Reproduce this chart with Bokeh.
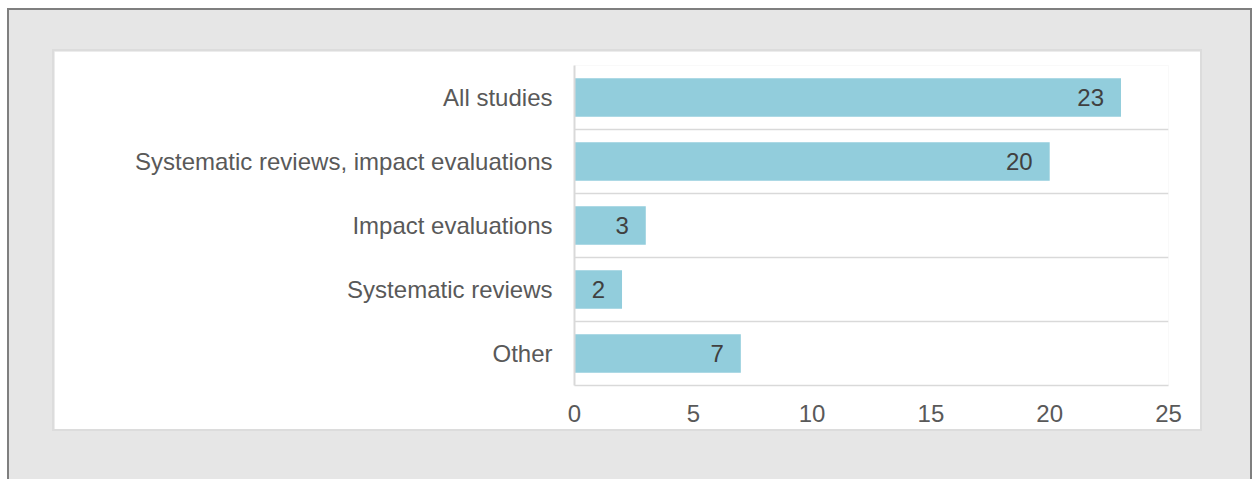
from bokeh.plotting import figure
from bokeh.models import Range1d, FactorRange, FixedTicker
from bokeh.layouts import column
from bokeh.core.properties import value
from bokeh.embed import file_html
from bokeh.resources import INLINE

categories = ["All studies", "Systematic reviews, impact evaluations",
              "Impact evaluations", "Systematic reviews", "Other"]
counts = [23, 20, 3, 2, 7]
x_ticks = [0, 5, 10, 15, 20, 25]
x_max = 25

FONT = "Liberation Sans"
GRID = "#d9d9d9"

factors = list(reversed(categories))
p = figure(width=1146, height=378,
           x_range=Range1d(0, x_max),
           y_range=FactorRange(factors=factors, range_padding=0),
           output_backend="svg", toolbar_location=None,
           min_border_left=520, min_border_right=32,
           min_border_top=14, min_border_bottom=44)
p.outline_line_color = None
p.background_fill_color = "white"
p.border_fill_color = "white"

p.hbar(y=categories, left=0, right=counts, height=0.6,
       fill_color="#92cddc", line_color=None)
p.text(x=counts, y=categories, text=[str(c) for c in counts],
       text_align="right", text_baseline="middle", x_offset=-17,
       text_font=value(FONT), text_font_size="24px", text_color="#404040")

# horizontal separators between categories
p.ygrid.ticker = FixedTicker(ticks=list(range(len(categories) + 1)))
p.ygrid.grid_line_color = GRID
p.ygrid.grid_line_width = 1.5
p.xgrid.grid_line_color = None

p.yaxis.axis_line_color = GRID
p.yaxis.axis_line_width = 2
p.yaxis.major_tick_line_color = None
p.yaxis.minor_tick_line_color = None
p.yaxis.major_label_standoff = 16
p.yaxis.major_label_text_font = FONT
p.yaxis.major_label_text_font_size = "24px"
p.yaxis.major_label_text_color = "#595959"

p.xaxis.ticker = FixedTicker(ticks=x_ticks)
p.xaxis.axis_line_color = GRID
p.xaxis.axis_line_width = 1.5
p.xaxis.major_tick_line_color = None
p.xaxis.minor_tick_line_color = None
p.xaxis.major_tick_out = 0
p.xaxis.major_label_standoff = 19
p.xaxis.major_label_text_font = FONT
p.xaxis.major_label_text_font_size = "24px"
p.xaxis.major_label_text_color = "#595959"

p.margin = (43, 0, 0, 47)
p.styles = {"box-shadow": "0 0 0 2px #dcdcdc"}

layout = column(p, width=1245, height=471, sizing_mode="fixed",
                margin=(8, 0, 0, 7),
                styles={"background-color": "#e6e6e6",
                        "box-shadow": "inset 2px 2px 0 0 #7f7f7f, inset -2px 0 0 0 #7f7f7f"})

open("out.html", "w").write(file_html(layout, INLINE))
